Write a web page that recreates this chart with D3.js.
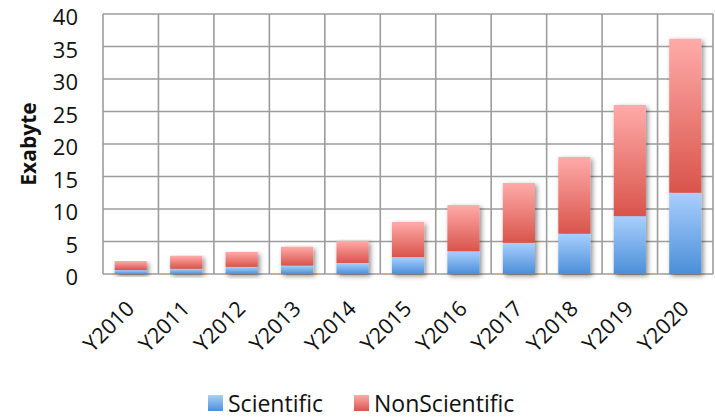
<!DOCTYPE html>
<html>
<head>
<meta charset="utf-8">
<script src="https://cdn.jsdelivr.net/npm/d3@7"></script>
<style>
  html, body { margin: 0; padding: 0; background: #fff; }
  svg { display: block; font-family: "Open Sans", sans-serif; }
</style>
</head>
<body>
<svg id="chart" width="715" height="419"></svg>
<script>
// Yearly data volume, split into scientific and non-scientific (exabytes)
const years = ["Y2010","Y2011","Y2012","Y2013","Y2014","Y2015","Y2016","Y2017","Y2018","Y2019","Y2020"];
const scientific    = [0.6, 0.8, 1.1, 1.3, 1.7, 2.6, 3.5, 4.8, 6.2, 8.9, 12.5];
const nonScientific = [1.4, 2.0, 2.3, 2.9, 3.4, 5.4, 7.1, 9.2, 11.8, 17.1, 23.7];
const seriesNames = ["Scientific", "NonScientific"];
const yTicks = [0, 5, 10, 15, 20, 25, 30, 35, 40];

const svg = d3.select("#chart");
const margin = { left: 103, top: 14, right: 2, bottom: 145 };
const W = 715, H = 419;

const x = d3.scaleBand().domain(years).range([margin.left, W - margin.right]).paddingInner(0.42).paddingOuter(0.21);
const xGrid = d3.scaleBand().domain(years).range([margin.left, W - margin.right]);
const y = d3.scaleLinear().domain([0, 40]).range([H - margin.bottom, margin.top]);

const defs = svg.append("defs");
function grad(id, top, bottom) {
  const g = defs.append("linearGradient").attr("id", id).attr("x1", 0).attr("y1", 0).attr("x2", 0).attr("y2", 1);
  g.append("stop").attr("offset", "0%").attr("stop-color", top);
  g.append("stop").attr("offset", "100%").attr("stop-color", bottom);
}
grad("gBlue", "#a9cffd", "#4b8fd9");
grad("gRed", "#ffaba9", "#d9544b");
const sh = defs.append("filter").attr("id", "shadow").attr("x", "-30%").attr("y", "-10%").attr("width", "160%").attr("height", "130%");
sh.append("feGaussianBlur").attr("in", "SourceAlpha").attr("stdDeviation", 2.5).attr("result", "b");
sh.append("feOffset").attr("in", "b").attr("dx", 2).attr("dy", 2).attr("result", "o");
sh.append("feComponentTransfer").attr("in", "o").attr("result", "s")
  .append("feFuncA").attr("type", "linear").attr("slope", 0.45);
const m = sh.append("feMerge");
m.append("feMergeNode").attr("in", "s");
m.append("feMergeNode").attr("in", "SourceGraphic");

// Grid
const grid = svg.append("g").attr("stroke", "#9c9c9c").attr("stroke-width", 1.6);
grid.selectAll("line.h").data(yTicks).join("line")
  .attr("x1", margin.left).attr("x2", W - margin.right)
  .attr("y1", d => y(d)).attr("y2", d => y(d));
const vx = years.map(d => xGrid(d)).concat([W - margin.right]);
grid.selectAll("line.v").data(vx).join("line")
  .attr("x1", d => d).attr("x2", d => d)
  .attr("y1", y(40)).attr("y2", y(0));

// Stacked bars
const rows = years.map((yr, i) => ({ year: yr, Scientific: scientific[i], NonScientific: nonScientific[i] }));
const stack = d3.stack().keys(seriesNames)(rows);
const fills = { Scientific: "url(#gBlue)", NonScientific: "url(#gRed)" };

const barsG = svg.append("g");
years.forEach((yr, i) => {
  const g = barsG.append("g").attr("filter", "url(#shadow)");
  stack.forEach(s => {
    const d = s[i];
    g.append("rect")
      .attr("x", x(yr)).attr("width", x.bandwidth())
      .attr("y", y(d[1])).attr("height", y(d[0]) - y(d[1]))
      .attr("fill", fills[s.key]);
  });
});

// Y axis labels
const yAxis = d3.axisLeft(y).tickValues(yTicks).tickSize(0).tickPadding(0);
const ya = svg.append("g").attr("transform", `translate(${margin.left - 25},3)`).call(yAxis);
ya.select(".domain").remove();
ya.selectAll("text").attr("font-size", 22).attr("fill", "#111").attr("font-family", "'Open Sans', sans-serif").attr("dy", "0.36em");

svg.append("text")
  .attr("transform", `translate(36,${(y(0) + y(40)) / 2}) rotate(-90)`)
  .attr("text-anchor", "middle").attr("font-size", 21).attr("font-weight", "bold").attr("fill", "#111")
  .text("Exabyte");

// X axis labels
const xAxis = d3.axisBottom(x).tickSize(0).tickPadding(0);
const xa = svg.append("g").attr("transform", `translate(0,${y(0)})`).call(xAxis);
xa.select(".domain").remove();
xa.selectAll("text")
  .attr("font-size", 21.5).attr("fill", "#111").attr("font-family", "'Open Sans', sans-serif")
  .attr("text-anchor", "end").attr("dy", 0).attr("y", 0)
  .attr("transform", "translate(5,36) rotate(-45)");

// Legend
const legend = svg.append("g");
const legendX = [208, 354];
seriesNames.forEach((name, i) => {
  const g = legend.append("g").attr("transform", `translate(${legendX[i]},395)`);
  g.append("rect").attr("width", 15).attr("height", 16).attr("fill", fills[name]);
  g.append("text").attr("x", 20).attr("y", 17).attr("font-size", 23).attr("fill", "#111").text(name);
});
</script>
</body>
</html>
